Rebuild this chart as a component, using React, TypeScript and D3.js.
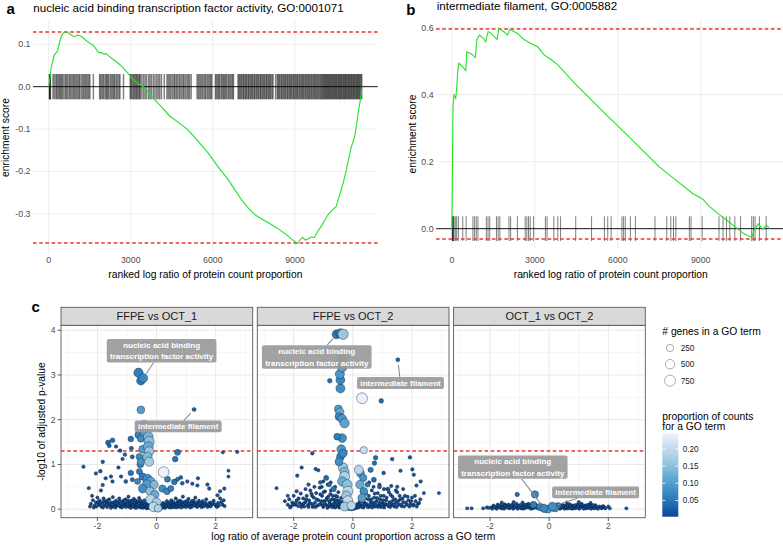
import React from 'react';
import * as d3 from 'd3';

const FONT = '"Liberation Sans", Arial, Helvetica, sans-serif';

// ---------------- panel a ----------------
const titleA = 'nucleic acid binding transcription factor activity, GO:0001071';
const curveA: number[][] = [
  [0,0],[40,0.015],[90,0.045],[150,0.06],[200,0.074],[260,0.079],[330,0.084],[400,0.106],[470,0.12],[550,0.128],
  [640,0.13],[740,0.126],[850,0.121],[950,0.118],[1050,0.122],[1150,0.12],[1250,0.116],[1350,0.11],[1450,0.105],
  [1550,0.101],[1650,0.096],[1750,0.087],[1830,0.08],[1920,0.081],[2000,0.077],[2100,0.078],[2200,0.072],[2320,0.066],
  [2450,0.06],[2560,0.054],[2700,0.046],[2878,0.033],[3050,0.019],[3250,0.008],[3493,-0.002],[3800,-0.026],[4100,-0.046],
  [4400,-0.068],[4750,-0.085],[5092,-0.102],[5450,-0.128],[5830,-0.157],[6200,-0.19],[6568,-0.22],[6800,-0.243],
  [7060,-0.268],[7300,-0.287],[7552,-0.303],[7800,-0.313],[8044,-0.322],[8350,-0.334],[8659,-0.348],[8880,-0.36],
  [9090,-0.37],[9180,-0.362],[9274,-0.356],[9380,-0.362],[9459,-0.36],[9600,-0.355],[9705,-0.356],[9850,-0.34],
  [10012,-0.324],[10197,-0.303],[10350,-0.292],[10504,-0.283],[10600,-0.262],[10689,-0.244],[10790,-0.22],[10873,-0.197],
  [10960,-0.17],[11058,-0.142],[11120,-0.13],[11181,-0.118],[11250,-0.09],[11304,-0.063],[11390,-0.031],[11451,0]
];
const hitsA: number[] = [
  25,38,52,64,160,205,262,298,341,386,424,468,503,556,612,647,695,748,788,836,884,925,966,1012,1057,1104,1138,1196,
  1247,1288,1334,1377,1422,1468,1506,1634,1862,1897,1946,1988,2027,2083,2118,2155,2196,2254,2297,2343,2384,2418,2473,
  2516,2568,2604,2735,2981,3012,3047,3093,3128,3172,3205,3238,3284,3318,3346,3404,3466,3523,3577,3652,3703,3758,3826,
  3884,3947,4003,4058,4121,4224,4322,4368,4417,4463,4518,4574,4608,4662,4707,4764,4803,4858,4912,4948,5003,5057,5104,
  5148,5207,5423,5468,5512,5558,5604,5647,5702,5738,5793,5838,5884,5927,5962,6092,6128,6173,6212,6247,6303,6338,6384,
  6418,6463,6497,6552,6588,6633,6677,6724,6752,6918,6953,6987,7024,7058,7103,7127,7172,7204,7236,7283,7308,7352,7387,
  7424,7457,7503,7528,7574,7607,7643,7678,7724,7748,7793,7827,7864,7897,7943,7968,8013,8047,8084,8117,8163,8198,8292,
  8353,8388,8424,8457,8503,8528,8573,8607,8644,8677,8723,8748,8794,8827,8863,8898,8943,8968,9013,9047,9084,9117,9163,
  9188,9234,9267,9303,9338,9384,9407,9453,9487,9524,9557,9603,9628,9674,9707,9743,9778,9823,9847,9893,9928,9963,9997,
  10034,10058,10093,10117,10153,10178,10214,10238,10273,10297,10334,10358,10393,10417,10453,10478,10514,10538,10573,
  10597,10634,10658,10693,10717,10753,10778,10814,10838,10873,10897,10934,10958,10993,11017,11053,11078,11114,11138,
  11173,11197,11234,11258,11293,11317,11353,11378,11412,11440
];
const boundsA = [-0.37, 0.13];
const xTicksA = [0, 3000, 6000, 9000];
const yTicksA = [-0.3, -0.2, -0.1, 0, 0.1];

// ---------------- panel b ----------------
const titleB = 'intermediate filament, GO:0005882';
const curveB: number[][] = [
  [0,0],[20,0.2],[37,0.364],[73,0.399],[134,0.389],[171,0.419],[207,0.469],[256,0.494],[378,0.484],[500,0.472],
  [537,0.528],[720,0.521],[842,0.511],[903,0.565],[1000,0.578],[1171,0.565],[1220,0.558],[1305,0.588],[1391,0.585],
  [1635,0.565],[1696,0.598],[1879,0.588],[2001,0.578],[2098,0.595],[2367,0.583],[2611,0.565],[2855,0.553],[3099,0.543],
  [3343,0.518],[3587,0.505],[3831,0.489],[4441,0.434],[5051,0.384],[5661,0.334],[6271,0.285],[6881,0.235],[7491,0.185],
  [8101,0.145],[8711,0.105],[9077,0.088],[9321,0.066],[9687,0.041],[9931,0.026],[10236,0.006],[10541,-0.014],
  [10846,-0.026],[10931,-0.004],[11090,0.014],[11249,-0.002],[11371,0.011],[11492,0]
];
const hitsB: number[] = [
  10,24,35,50,73,120,171,232,391,512,757,818,879,940,1244,1305,1366,1610,1671,1732,2062,2123,2367,2648,2709,2770,2831,
  2953,3380,3441,3685,3831,3929,4478,5051,5515,5637,5759,6149,6210,6271,6454,6637,7345,7772,7918,8016,8101,8589,8650,
  9052,9662,9808,9930,10052,10235,10442,10845,10906,10967,11125,11369
];
const boundsB = [-0.03, 0.595];
const xTicksB = [0, 3000, 6000, 9000];
const yTicksB = [0, 0.2, 0.4, 0.6];

const xTitleAB = 'ranked log ratio of protein count proportion';
const yTitleAB = 'enrichment score';

// ---------------- panel c ----------------
const facets = ['FFPE vs OCT_1', 'FFPE vs OCT_2', 'OCT_1 vs OCT_2'];
// [log ratio, -log10 adj p, genes, proportion]
const terms1: number[][] = [
  [-2.47,0.95,20,0.02],[-2.29,0.47,15,0.02],[-2.05,0.8,20,0.02],[-1.9,0.85,25,0.02],[-1.82,1.06,25,0.02],
  [-1.64,1.49,80,0.04],[-1.49,1.54,70,0.04],[-1.6,1.42,40,0.03],[-1.37,1.4,20,0.02],[-1.23,1.31,25,0.02],
  [-1.07,1.22,25,0.03],[-1.15,1.12,20,0.02],[-1.29,0.93,20,0.02],[-1.54,0.73,20,0.02],[-1.49,0.62,20,0.02],
  [-1.72,0.69,20,0.02],[-1.82,0.54,20,0.02],[-1.88,0.42,20,0.02],[-1.2,0.73,20,0.02],[-1.04,0.62,30,0.03],
  [0.87,0.58,30,0.03],[1.04,0.62,20,0.02],[1.21,0.57,20,0.02],[1.38,0.53,20,0.02],[1.4,0.69,20,0.02],
  [1.72,0.55,20,0.02],[1.78,0.46,20,0.02],[2.15,0.4,20,0.02],[2.29,0.46,20,0.02],[2.06,0.31,20,0.02],
  [2.24,1.27,15,0.02],[2.73,1.28,15,0.02],[2.43,0.86,12,0.02],[2.43,0.73,12,0.02],
  [-0.85,1.36,40,0.03],[-0.82,1.17,40,0.03],[-0.87,0.81,110,0.05],[-0.82,0.66,40,0.04],[-0.64,0.62,150,0.07],
  [-0.58,0.84,150,0.06],[-0.47,0.73,250,0.06],[-0.87,1.57,120,0.05],[-0.62,1.66,200,0.07],[-0.53,1.58,250,0.08],
  [-0.58,1.17,200,0.08],[-0.55,1.0,200,0.07],[-0.47,1.34,300,0.1],[-0.53,1.06,250,0.09],[-0.42,1.9,260,0.09],
  [-0.36,1.75,520,0.11],[-0.28,1.62,560,0.13],[-0.25,1.51,600,0.15],[-0.28,1.4,560,0.12],[-0.25,1.29,520,0.16],
  [-0.31,1.17,500,0.14],[-0.25,1.06,460,0.17],[-0.31,0.68,450,0.08],[-0.2,0.62,420,0.11],[-0.33,0.55,480,0.1],
  [-0.47,0.46,380,0.08],[-0.08,0.55,350,0.14],[-0.22,0.4,400,0.15],[-0.06,0.33,380,0.12],[-0.2,0.22,500,0.19],
  [0.0,0.15,450,0.17],[-0.1,0.05,520,0.2],[0.05,0.02,300,0.18],[0.2,0.46,250,0.08],[0.35,0.4,200,0.07],
  [0.48,0.46,150,0.06],[0.6,0.61,120,0.05],[0.71,0.67,40,0.04],[0.82,0.71,30,0.03],[0.37,0.67,150,0.06],
  [0.71,1.27,150,0.05],[0.63,1.12,120,0.05],[0.24,0.83,700,0.24],
  [-0.53,2.22,300,0.1],[1.27,2.23,35,0.03],[-0.53,2.87,380,0.055],[-0.61,3.05,480,0.06],[-0.45,2.93,430,0.07]
];
const terms2: number[][] = [
  [-2.58,0.47,15,0.02],[2.91,0.36,15,0.02],[2.4,0.36,15,0.02],[2.06,0.77,20,0.02],[2.15,0.53,20,0.02],
  [2.29,0.62,20,0.02],[-1.5,0.55,20,0.02],[-1.1,0.6,30,0.03],[-0.9,0.7,80,0.04],[-0.8,0.55,60,0.04],
  [-0.65,0.45,100,0.05],[0.5,0.55,80,0.05],[0.9,0.5,40,0.03],[1.2,0.45,20,0.02],[1.5,0.5,20,0.02],
  [-1.9,0.4,20,0.02],[-2.2,0.3,15,0.02],[-1.73,0.93,20,0.02],[-1.88,0.75,20,0.02],[-1.26,0.9,20,0.02],
  [-1.17,0.87,20,0.02],[1.04,0.81,25,0.02],[1.33,1.12,25,0.02],[1.93,1.16,25,0.02],[1.61,0.86,20,0.02],
  [2.01,0.89,20,0.02],[-1.37,1.25,25,0.02],[0.77,1.15,60,0.04],[0.73,1.03,60,0.04],[0.6,0.88,100,0.05],
  [0.71,0.66,80,0.04],[0.26,0.8,300,0.1],[0.35,0.7,250,0.09],[0.24,0.55,380,0.12],[0.37,0.4,300,0.08],
  [0.31,0.25,350,0.1],[0.2,0.88,450,0.19],
  [-0.33,0.93,520,0.16],[-0.28,0.83,480,0.14],[-0.28,0.73,600,0.18],[-0.36,0.62,480,0.12],[-0.19,0.55,550,0.15],
  [-0.17,0.4,600,0.19],[-0.22,0.3,500,0.16],[-0.17,0.19,550,0.2],[-0.28,0.06,450,0.17],[-0.05,0.08,400,0.19],
  [-0.42,1.17,300,0.06],[-0.47,1.06,300,0.08],[-0.39,1.34,420,0.09],[-0.33,1.25,350,0.07],[0.37,1.32,250,0.21],
  [-0.36,1.59,400,0.08],[-0.53,1.62,200,0.06],[-0.49,2.24,300,0.1],[-0.44,2.17,350,0.12],[-0.47,2.07,300,0.07],
  [-0.36,2.02,420,0.09],[-0.28,1.92,480,0.11],[-0.42,2.7,450,0.08],[0.31,2.48,700,0.24],[0.96,2.42,60,0.04],
  [-0.78,2.87,60,0.04],[-0.42,2.89,420,0.07],[-0.44,3.02,450,0.09],[-0.36,3.17,480,0.1],[-0.36,3.34,500,0.12],
  [1.52,3.34,35,0.03],[-0.55,3.91,420,0.05],[-0.42,3.93,450,0.06],[-0.33,3.91,620,0.16]
];
const terms3: number[][] = [
  [-2.77,0.02,15,0.02],[-2.62,0.02,15,0.02],[-2.23,0.02,15,0.02],[-2.05,0.03,15,0.02],[2.05,0.02,15,0.02],
  [2.61,0.02,15,0.02],[-1.08,0.33,50,0.04],[-0.48,0.33,250,0.07],[-0.53,0.1,200,0.06],[-0.3,0.05,250,0.07],
  [0.3,0.08,150,0.05],[-0.05,0.0,300,0.1],[0.2,0.02,250,0.09],[-0.17,0.02,350,0.07],[0.11,0.06,400,0.08]
];
// small GO terms forming the dense band near zero: [log ratio, -log10 adj p]
const band1: number[][] = [
  [-2.22,0.12],[-2.18,0.3],[-2.15,0.2],[-2.1,0.08],[-2.05,0.15],[-2.0,0.26],[-1.96,0.1],[-1.92,0.19],[-1.87,0.06],
  [-1.83,0.14],[-1.79,0.24],[-1.75,0.09],[-1.71,0.17],[-1.67,0.05],[-1.63,0.12],[-1.6,0.22],[-1.56,0.08],[-1.52,0.15],
  [-1.48,0.27],[-1.45,0.06],[-1.41,0.11],[-1.37,0.19],[-1.33,0.08],[-1.3,0.14],[-1.26,0.24],[-1.22,0.05],[-1.19,0.1],
  [-1.15,0.17],[-1.12,0.07],[-1.08,0.13],[-1.05,0.22],[-1.01,0.09],[-0.98,0.15],[-0.95,0.28],[-0.92,0.05],[-0.89,0.11],
  [-0.86,0.19],[-0.83,0.07],[-0.8,0.13],[-0.77,0.23],[-0.74,0.04],[-0.71,0.1],[-0.68,0.17],[-0.65,0.06],[-0.62,0.12],
  [-0.59,0.25],[-0.56,0.04],[-0.53,0.09],[-0.5,0.15],[-0.47,0.03],[-0.44,0.1],[-0.41,0.2],[-0.38,0.05],[-0.35,0.12],
  [-0.32,0.02],[-0.29,0.08],[-0.26,0.15],[-0.23,0.03],[-0.2,0.07],[-0.17,0.01],[-0.14,0.05],[-0.11,0.1],[-0.08,0.02],
  [-0.05,0.0],[0.02,0.01],[0.05,0.05],[0.08,0.02],[0.11,0.08],[0.14,0.03],[0.17,0.1],[0.2,0.05],[0.23,0.14],[0.26,0.07],
  [0.29,0.03],[0.32,0.11],[0.35,0.18],[0.38,0.06],[0.41,0.13],[0.44,0.04],[0.47,0.1],[0.5,0.2],[0.53,0.07],[0.56,0.14],
  [0.59,0.05],[0.62,0.11],[0.65,0.24],[0.68,0.08],[0.71,0.15],[0.74,0.05],[0.77,0.1],[0.8,0.19],[0.83,0.07],[0.86,0.13],
  [0.89,0.28],[0.92,0.06],[0.95,0.11],[0.98,0.17],[1.01,0.08],[1.05,0.14],[1.08,0.23],[1.12,0.06],[1.15,0.11],
  [1.19,0.18],[1.23,0.08],[1.27,0.13],[1.31,0.26],[1.35,0.07],[1.39,0.12],[1.43,0.19],[1.48,0.09],[1.53,0.14],
  [1.58,0.06],[1.63,0.11],[1.68,0.22],[1.74,0.08],[1.8,0.15],[1.86,0.1],[1.93,0.19],[2.0,0.08],[2.08,0.14],[2.15,0.24],
  [2.23,0.1],[2.3,0.07],
  [-2.12,0.04],[-2.03,0.06],[-1.98,0.16],[-1.9,0.12],[-1.81,0.04],[-1.77,0.18],[-1.69,0.1],[-1.65,0.2],[-1.58,0.13],
  [-1.54,0.03],[-1.5,0.1],[-1.43,0.16],[-1.39,0.04],[-1.35,0.14],[-1.28,0.09],[-1.24,0.18],[-1.17,0.04],[-1.13,0.14],
  [-1.1,0.2],[-1.03,0.05],[-0.99,0.11],[-0.96,0.19],[-0.9,0.14],[-0.87,0.03],[-0.84,0.16],[-0.79,0.09],[-0.75,0.15],
  [-0.72,0.2],[-0.69,0.03],[-0.66,0.1],[-0.63,0.17],[-0.6,0.08],[-0.57,0.13],[-0.54,0.19],[-0.51,0.06],[-0.48,0.12],
  [-0.45,0.07],[-0.42,0.14],[-0.39,0.09],[-0.36,0.03],[-0.33,0.07],[-0.3,0.12],[-0.27,0.05],[-0.24,0.1],[-0.21,0.02],
  [-0.18,0.06],[-0.13,0.03],[-0.1,0.06],[-0.02,0.02],[0.03,0.03],[0.1,0.04],[0.13,0.06],[0.18,0.03],[0.22,0.08],
  [0.27,0.1],[0.31,0.06],[0.34,0.09],[0.39,0.12],[0.43,0.08],[0.46,0.15],[0.51,0.04],[0.55,0.09],[0.58,0.16],[0.61,0.08],
  [0.66,0.04],[0.69,0.12],[0.73,0.18],[0.76,0.07],[0.79,0.13],[0.84,0.04],[0.88,0.16],[0.91,0.1],[0.96,0.14],[1.0,0.05],
  [1.03,0.18],[1.07,0.09],[1.1,0.13],[1.14,0.04],[1.18,0.14],[1.21,0.06],[1.25,0.19],[1.29,0.09],[1.33,0.15],[1.37,0.05],
  [1.41,0.09],[1.46,0.13],[1.51,0.05],[1.56,0.18],[1.61,0.08],[1.66,0.14],[1.72,0.05],[1.77,0.11],[1.83,0.06],[1.89,0.14],
  [1.97,0.11],[2.04,0.05],[2.11,0.08],[2.19,0.16],[2.27,0.2],[-2.25,0.06]
];
const band2: number[][] = [
  [-2.2,0.1],[-2.15,0.22],[-2.1,0.06],[-2.05,0.15],[-2.0,0.3],[-1.95,0.1],[-1.9,0.2],[-1.85,0.07],[-1.8,0.14],
  [-1.76,0.35],[-1.72,0.1],[-1.68,0.24],[-1.64,0.06],[-1.6,0.16],[-1.56,0.3],[-1.52,0.09],[-1.48,0.2],[-1.44,0.42],
  [-1.4,0.12],[-1.36,0.05],[-1.32,0.26],[-1.28,0.15],[-1.24,0.36],[-1.2,0.08],[-1.16,0.2],[-1.12,0.48],[-1.08,0.12],
  [-1.04,0.3],[-1.0,0.05],[-0.97,0.18],[-0.94,0.4],[-0.91,0.1],[-0.88,0.25],[-0.85,0.55],[-0.82,0.06],[-0.79,0.16],
  [-0.76,0.34],[-0.73,0.1],[-0.7,0.22],[-0.67,0.45],[-0.64,0.05],[-0.61,0.15],[-0.58,0.3],[-0.55,0.08],[-0.52,0.2],
  [-0.49,0.38],[-0.46,0.04],[-0.43,0.12],[-0.4,0.25],[-0.37,0.07],[-0.34,0.16],[-0.31,0.02],[-0.28,0.1],[-0.25,0.2],
  [-0.22,0.04],[-0.19,0.1],[-0.16,0.01],[-0.12,0.05],[-0.08,0.02],[-0.04,0.0],[0.0,0.03],[0.04,0.01],[0.08,0.06],
  [0.12,0.03],[0.16,0.12],[0.2,0.05],[0.24,0.18],[0.28,0.08],[0.32,0.28],[0.36,0.04],[0.4,0.14],[0.44,0.35],[0.48,0.08],
  [0.52,0.22],[0.56,0.05],[0.6,0.16],[0.64,0.42],[0.68,0.1],[0.72,0.26],[0.76,0.06],[0.8,0.18],[0.84,0.36],[0.88,0.09],
  [0.92,0.22],[0.96,0.05],[1.0,0.14],[1.04,0.3],[1.08,0.1],[1.12,0.2],[1.16,0.45],[1.2,0.07],[1.24,0.16],[1.28,0.32],
  [1.32,0.1],[1.36,0.2],[1.4,0.06],[1.45,0.14],[1.5,0.38],[1.55,0.1],[1.6,0.22],[1.65,0.07],[1.7,0.16],[1.76,0.3],
  [1.82,0.1],[1.88,0.2],[1.94,0.12],[2.0,0.26],[2.06,0.1],[2.12,0.18],[2.2,0.12],[2.28,0.22],[-1.3,0.5],[-1.0,0.62],
  [-0.75,0.6],[0.55,0.6],[0.9,0.55],[1.3,0.52],[-1.6,0.45],[1.7,0.45],
  [-2.12,0.04],[-2.02,0.1],[-1.93,0.14],[-1.83,0.24],[-1.74,0.05],[-1.66,0.13],[-1.58,0.22],[-1.5,0.05],[-1.46,0.14],
  [-1.38,0.3],[-1.34,0.09],[-1.26,0.05],[-1.22,0.22],[-1.14,0.1],[-1.1,0.33],[-1.06,0.18],[-1.02,0.08],[-0.99,0.38],
  [-0.95,0.12],[-0.9,0.2],[-0.86,0.03],[-0.83,0.28],[-0.8,0.1],[-0.77,0.2],[-0.74,0.42],[-0.71,0.05],[-0.68,0.3],
  [-0.65,0.12],[-0.62,0.22],[-0.59,0.04],[-0.56,0.16],[-0.53,0.28],[-0.5,0.1],[-0.47,0.18],[-0.44,0.05],[-0.41,0.16],
  [-0.38,0.1],[-0.35,0.03],[-0.32,0.13],[-0.29,0.06],[-0.26,0.12],[-0.23,0.08],[-0.2,0.02],[-0.14,0.04],[-0.1,0.01],
  [-0.06,0.04],[0.02,0.02],[0.06,0.03],[0.1,0.05],[0.14,0.08],[0.18,0.04],[0.22,0.1],[0.26,0.14],[0.3,0.05],[0.34,0.18],
  [0.38,0.1],[0.42,0.24],[0.46,0.12],[0.5,0.05],[0.54,0.3],[0.58,0.1],[0.62,0.22],[0.66,0.04],[0.7,0.15],[0.74,0.35],
  [0.78,0.1],[0.82,0.25],[0.86,0.05],[0.9,0.14],[0.94,0.3],[0.98,0.1],[1.02,0.2],[1.06,0.04],[1.1,0.12],[1.14,0.26],
  [1.18,0.1],[1.22,0.38],[1.26,0.05],[1.3,0.14],[1.34,0.28],[1.38,0.1],[1.43,0.22],[1.48,0.05],[1.53,0.18],[1.58,0.3],
  [1.63,0.1],[1.68,0.24],[1.73,0.06],[1.79,0.15],[1.85,0.28],[1.91,0.06],[1.97,0.18],[2.03,0.08],[2.1,0.3],[2.16,0.06],
  [2.24,0.14],[-2.3,0.18],[-1.05,0.5],[-0.6,0.5],[0.7,0.5],[1.05,0.45],[-1.4,0.35],[1.45,0.42]
];
const band3: number[][] = [
  [-1.95,0.04],[-1.88,0.08],[-1.8,0.03],[-1.74,0.1],[-1.68,0.05],[-1.62,0.02],[-1.56,0.07],[-1.5,0.11],[-1.45,0.04],
  [-1.4,0.08],[-1.35,0.02],[-1.3,0.06],[-1.25,0.1],[-1.2,0.03],[-1.15,0.07],[-1.1,0.12],[-1.05,0.04],[-1.0,0.08],
  [-0.95,0.02],[-0.9,0.06],[-0.85,0.1],[-0.8,0.03],[-0.75,0.07],[-0.7,0.12],[-0.65,0.04],[-0.6,0.08],[-0.55,0.02],
  [-0.5,0.05],[-0.45,0.1],[-0.4,0.03],[-0.35,0.06],[-0.3,0.01],[-0.25,0.04],[-0.2,0.0],[-0.15,0.02],[-0.1,0.0],
  [-0.05,0.01],[0.0,0.0],[0.05,0.02],[0.1,0.0],[0.15,0.03],[0.2,0.01],[0.25,0.05],[0.3,0.02],[0.35,0.07],[0.4,0.03],
  [0.45,0.1],[0.5,0.04],[0.55,0.08],[0.6,0.02],[0.65,0.06],[0.7,0.11],[0.75,0.04],[0.8,0.08],[0.85,0.02],[0.9,0.06],
  [0.95,0.1],[1.0,0.03],[1.05,0.07],[1.1,0.12],[1.15,0.04],[1.2,0.08],[1.25,0.02],[1.3,0.06],[1.35,0.1],[1.4,0.03],
  [1.45,0.07],[1.5,0.04],[1.56,0.09],[1.62,0.03],[1.7,0.06],[1.78,0.02],[1.85,0.05],[-1.6,0.15],[-1.2,0.16],
  [-0.9,0.15],[0.6,0.15],[1.0,0.16],[1.4,0.14],
  [-1.92,0.01],[-1.84,0.05],[-1.77,0.01],[-1.71,0.06],[-1.65,0.09],[-1.59,0.04],[-1.53,0.01],[-1.47,0.08],[-1.42,0.05],
  [-1.37,0.1],[-1.32,0.04],[-1.27,0.07],[-1.22,0.01],[-1.17,0.05],[-1.12,0.08],[-1.07,0.01],[-1.02,0.05],[-0.97,0.09],
  [-0.92,0.04],[-0.87,0.01],[-0.82,0.06],[-0.77,0.1],[-0.72,0.04],[-0.67,0.08],[-0.62,0.01],[-0.57,0.06],[-0.52,0.09],
  [-0.47,0.04],[-0.42,0.07],[-0.37,0.02],[-0.32,0.05],[0.27,0.03],[0.32,0.06],[0.37,0.01],[0.42,0.05],[0.47,0.08],
  [0.52,0.01],[0.57,0.05],[0.62,0.09],[0.67,0.02],[0.72,0.07],[0.77,0.01],[0.82,0.05],[0.87,0.09],[0.92,0.03],[0.97,0.06],
  [1.02,0.01],[1.07,0.1],[1.12,0.05],[1.17,0.01],[1.22,0.06],[1.27,0.09],[1.32,0.03],[1.37,0.07],[1.42,0.01],[1.48,0.09],
  [1.53,0.02],[1.59,0.06],[1.65,0.01],[1.74,0.04],[1.82,0.07],[1.9,0.02],[-2.1,0.04],[2.0,0.06]
];
const bandGenes = 12;
const bandProp = 0.012;
const termsByFacet = [terms1, terms2, terms3];
const bandByFacet = [band1, band2, band3];
const pCutoff = 0.05;
const xTicksC = [-2, 0, 2];
const xMinorC = [-3, -1, 1, 3];
const yTicksC = [0, 1, 2, 3, 4];
const yMinorC = [0.5, 1.5, 2.5, 3.5];
const xTitleC = 'log ratio of average protein count proportion across a GO term';
const yTitleC = '-log10 of adjusted p-value';

const nucleic = ['nucleic acid binding', 'transcription factor activity'];
const interm = ['intermediate filament'];
// labelled terms: facet, text, point (data), label centre (data)
const labelsC = [
  { f: 0, text: nucleic, px: -0.45, py: 2.93, lx: 0.17, ly: 3.54 },
  { f: 0, text: interm, px: 1.27, py: 2.23, lx: 0.73, ly: 1.85 },
  { f: 1, text: nucleic, px: -0.55, py: 3.91, lx: -1.22, ly: 3.4 },
  { f: 1, text: interm, px: 1.52, py: 3.34, lx: 1.61, ly: 2.82 },
  { f: 2, text: nucleic, px: -0.17, py: 0.02, lx: -1.23, ly: 0.94 },
  { f: 2, text: interm, px: 0.11, py: 0.06, lx: 1.57, ly: 0.375 },
];

const sizeTitle = '# genes in a GO term';
const sizeBreaks = [250, 500, 750];
const genesRange = [5, 900];
const colourTitle = ['proportion of counts', 'for a GO term'];
const propBreaks = [0.05, 0.1, 0.15, 0.2];
const propRange = [0.003, 0.245];
const blues = ['#084594', '#2171B5', '#4292C6', '#6BAED6', '#9ECAE1', '#C6DBEF', '#EFF3FF'];

const RED = '#F23030';

// ---------------- helpers ----------------
let measureCtx: CanvasRenderingContext2D | null = null;
function textWidth(s: string, font: string): number {
  if (!measureCtx) {
    const c = document.createElement('canvas');
    measureCtx = c.getContext('2d');
  }
  if (!measureCtx) return s.length * 4;
  measureCtx.font = font;
  return measureCtx.measureText(s).width;
}

const fmt1 = (v: number) => (Math.abs(v) < 1e-9 ? '0.0' : v.toFixed(1));
const fmt2 = (v: number) => v.toFixed(2);

type GseaProps = {
  xs: d3.ScaleLinear<number, number>;
  ys: d3.ScaleLinear<number, number>;
  curve: number[][];
  hits: number[];
  hitHalf: number;
  hitOpacity: number;
  hitWidth: number;
  bounds: number[];
  xTicks: number[];
  yTicks: number[];
  title: string;
  titleX: number;
  titleY: number;
  letter: string;
  letterX: number;
  letterY: number;
  yTitleX: number;
  xTitleY: number;
  tickY: number;
};

function Gsea(p: GseaProps) {
  const [x0, x1] = p.xs.range();
  const [yb, yt] = p.ys.range();
  const line = d3.line<number[]>().x(d => p.xs(d[0])).y(d => p.ys(d[1]));
  return (
    <g>
      {p.xTicks.map(t => (
        <line key={'gx' + t} x1={p.xs(t)} x2={p.xs(t)} y1={yt} y2={yb} stroke="#EBEBEB" strokeWidth={0.9} />
      ))}
      {p.yTicks.map(t => (
        <line key={'gy' + t} x1={x0} x2={x1} y1={p.ys(t)} y2={p.ys(t)} stroke="#EBEBEB" strokeWidth={0.9} />
      ))}
      {p.hits.map((h, i) => (
        <line key={'h' + i} x1={p.xs(h)} x2={p.xs(h)} y1={p.ys(-p.hitHalf)} y2={p.ys(p.hitHalf)}
          stroke="#000" strokeOpacity={p.hitOpacity} strokeWidth={p.hitWidth} />
      ))}
      <line x1={x0} x2={x1} y1={p.ys(0)} y2={p.ys(0)} stroke="#000" strokeWidth={0.9} />
      {p.bounds.map(b => (
        <line key={'b' + b} x1={x0} x2={x1} y1={Math.round(p.ys(b))} y2={Math.round(p.ys(b))} stroke={RED}
          strokeWidth={1.6} strokeDasharray="3.6,2.6" />
      ))}
      <path d={line(p.curve) || ''} fill="none" stroke="#22E322" strokeWidth={1.1} />
      {p.xTicks.map(t => (
        <text key={'xl' + t} x={p.xs(t)} y={p.tickY} textAnchor="middle" fontSize={8.8} fill="#4D4D4D">{t}</text>
      ))}
      {p.yTicks.map(t => (
        <text key={'yl' + t} x={x0 - 2.5} y={p.ys(t) + 3.1} textAnchor="end" fontSize={8.8} fill="#4D4D4D">{fmt1(t)}</text>
      ))}
      <text x={(x0 + x1) / 2} y={p.xTitleY} textAnchor="middle" fontSize={10.3} fill="#000">{xTitleAB}</text>
      <text transform={`translate(${p.yTitleX},${(yt + yb) / 2}) rotate(-90)`} textAnchor="middle" fontSize={10.3} fill="#000">{yTitleAB}</text>
      <text x={p.titleX} y={p.titleY} fontSize={11.6} fill="#000">{p.title}</text>
      <text x={p.letterX} y={p.letterY} fontSize={15} fontWeight="bold" fill="#000">{p.letter}</text>
    </g>
  );
}

export default function App() {
  // panel a / b scales
  const xA = d3.scaleLinear().domain([-572, 12022]).range([33, 377.7]);
  const yA = d3.scaleLinear().domain([-0.395, 0.155]).range([254, 21]);
  const xB = d3.scaleLinear().domain([-574, 12064]).range([436.1, 785.4]);
  const yB = d3.scaleLinear().domain([-0.061, 0.626]).range([249.1, 19]);

  // panel c scales
  const cTop = 325.3, cBottom = 517.7, stripTop = 307.3;
  const cWidth = 191.7, cStep = 196.3, cLeft0 = 61;
  const yC = d3.scaleLinear().domain([-0.19, 4.11]).range([cBottom, cTop]);
  const size = d3.scaleSqrt().domain(genesRange).range([1.4, 6]);
  const colourDomain = blues.map((_, i) => propRange[0] + (i * (propRange[1] - propRange[0])) / (blues.length - 1));
  const colour = d3.scaleLinear<string>().domain(colourDomain).range(blues).interpolate(d3.interpolateLab).clamp(true);

  const labelFont = `bold 8px ${FONT}`;

  // legend
  const legX = 662.3;
  const barTop = 433.3, barBottom = 516.7, barW = 16;
  const barScale = d3.scaleLinear().domain(propRange).range([barBottom, barTop]);
  const gradStops = d3.range(0, 1.0001, 0.05).map(t => ({ t, c: colour(propRange[0] + t * (propRange[1] - propRange[0])) }));

  return (
    <svg width={783} height={545} style={{ position: 'absolute', left: 0, top: 0, background: '#fff' }}
      fontFamily={FONT}>
      <rect x={0} y={0} width={783} height={545} fill="#fff" />
      <defs>
        <linearGradient id="propGrad" x1="0" x2="0" y1="1" y2="0">
          {gradStops.map(s => <stop key={s.t} offset={s.t} stopColor={s.c} />)}
        </linearGradient>
        {facets.map((_, i) => (
          <clipPath key={i} id={'clipC' + i}>
            <rect x={cLeft0 + i * cStep} y={cTop} width={cWidth} height={cBottom - cTop} />
          </clipPath>
        ))}
      </defs>

      <Gsea xs={xA} ys={yA} curve={curveA} hits={hitsA} hitHalf={0.03} hitOpacity={0.5} hitWidth={1.45} bounds={boundsA}
        xTicks={xTicksA} yTicks={yTicksA} title={titleA} titleX={33.3} titleY={12.3}
        letter="a" letterX={6.5} letterY={14.2} yTitleX={8.6} xTitleY={278.3} tickY={263.3} />
      <Gsea xs={xB} ys={yB} curve={curveB} hits={hitsB} hitHalf={0.037} hitOpacity={0.5} hitWidth={1} bounds={boundsB}
        xTicks={xTicksB} yTicks={yTicksB} title={titleB} titleX={436.7} titleY={10}
        letter="b" letterX={406.2} letterY={15} yTitleX={416} xTitleY={278} tickY={263.3} />

      {/* panel c */}
      <text x={31.5} y={311.6} fontSize={15} fontWeight="bold" fill="#000">c</text>
      {facets.map((name, i) => {
        const left = cLeft0 + i * cStep;
        const right = left + cWidth;
        const xC = d3.scaleLinear().domain([-3.23, 3.25]).range([left, right]);
        const pts = termsByFacet[i];
        const band = bandByFacet[i];
        const labs = labelsC.filter(l => l.f === i);
        const cutY = Math.round(yC(-Math.log10(pCutoff)));
        return (
          <g key={name}>
            {xMinorC.map(t => <line key={'mx' + t} x1={xC(t)} x2={xC(t)} y1={cTop} y2={cBottom} stroke="#F0F0F0" strokeWidth={0.6} />)}
            {yMinorC.map(t => <line key={'my' + t} x1={left} x2={right} y1={yC(t)} y2={yC(t)} stroke="#F0F0F0" strokeWidth={0.6} />)}
            {xTicksC.map(t => <line key={'gx' + t} x1={xC(t)} x2={xC(t)} y1={cTop} y2={cBottom} stroke="#E6E6E6" strokeWidth={0.9} />)}
            {yTicksC.map(t => <line key={'gy' + t} x1={left} x2={right} y1={yC(t)} y2={yC(t)} stroke="#E6E6E6" strokeWidth={0.9} />)}
            <line x1={left} x2={right} y1={cutY} y2={cutY} stroke={RED} strokeWidth={1.6} strokeDasharray="3.6,2.6" />
            <g clipPath={`url(#clipC${i})`}>
              {band.map((d, k) => (
                <circle key={'b' + k} cx={xC(d[0])} cy={yC(d[1])} r={size(bandGenes)} fill={colour(bandProp)}
                  stroke="#0b1a30" strokeWidth={0.5} />
              ))}
              {pts.map((d, k) => (
                <circle key={'p' + k} cx={xC(d[0])} cy={yC(d[1])} r={size(d[2])} fill={colour(d[3])}
                  stroke="#1a2535" strokeWidth={0.5} strokeOpacity={0.85} />
              ))}
              {labs.map((l, k) => {
                const w = Math.max(...l.text.map(s => textWidth(s, labelFont))) + 6.5;
                const h = l.text.length * 11.6 + 0.2;
                const cx = xC(l.lx), cy = yC(l.ly);
                const bx = cx - w / 2, by = cy - h / 2;
                const px = xC(l.px), py = yC(l.py);
                const dx = cx - px, dy = cy - py;
                const tx = dx !== 0 ? (w / 2) / Math.abs(dx) : Infinity;
                const ty = dy !== 0 ? (h / 2) / Math.abs(dy) : Infinity;
                const tEdge = 1 - Math.min(tx, ty, 1);
                const len = Math.hypot(dx, dy);
                const t0 = Math.min(5 / len, tEdge);
                return (
                  <g key={'l' + k}>
                    <line x1={px + dx * t0} y1={py + dy * t0} x2={px + dx * tEdge} y2={py + dy * tEdge}
                      stroke="#8E8E8E" strokeWidth={1.1} />
                    <rect x={bx} y={by} width={w} height={h} rx={2} fill="#9B9B9B" fillOpacity={0.93} />
                    {l.text.map((s, j) => (
                      <text key={j} x={cx} y={by + 8.6 + j * 11.6} textAnchor="middle" fontSize={8}
                        fontWeight="bold" fill="#fff">{s}</text>
                    ))}
                  </g>
                );
              })}
            </g>
            <rect x={left} y={cTop} width={cWidth} height={cBottom - cTop} fill="none" stroke="#595959" strokeWidth={0.9} />
            <rect x={left} y={stripTop} width={cWidth} height={cTop - stripTop} fill="#D9D9D9" stroke="#595959" strokeWidth={0.9} />
            <text x={(left + right) / 2} y={320.2} textAnchor="middle" fontSize={11} fill="#1A1A1A">{name}</text>
            {xTicksC.map(t => (
              <g key={'xt' + t}>
                <line x1={xC(t)} x2={xC(t)} y1={cBottom} y2={cBottom + 3.3} stroke="#333" strokeWidth={0.8} />
                <text x={xC(t)} y={529.3} textAnchor="middle" fontSize={8.5} fill="#4D4D4D">{t}</text>
              </g>
            ))}
            {i === 0 && yTicksC.map(t => (
              <g key={'yt' + t}>
                <line x1={left - 3.3} x2={left} y1={yC(t)} y2={yC(t)} stroke="#333" strokeWidth={0.8} />
                <text x={left - 5.5} y={yC(t) + 3} textAnchor="end" fontSize={8.5} fill="#4D4D4D">{t}</text>
              </g>
            ))}
          </g>
        );
      })}
      <text x={353.3} y={540} textAnchor="middle" fontSize={10.3} fill="#000">{xTitleC}</text>
      <text transform={`translate(44.5,${(cTop + cBottom) / 2}) rotate(-90)`} textAnchor="middle" fontSize={10.3} fill="#000">{yTitleC}</text>

      {/* legends */}
      <text x={legX} y={334.5} fontSize={10.3} fill="#000">{sizeTitle}</text>
      {sizeBreaks.map((b, k) => {
        const cy = [348, 364.2, 380.7][k];
        return (
          <g key={'sz' + b}>
            <circle cx={670} cy={cy} r={size(b)} fill="#fff" stroke="#8A8A8A" strokeWidth={0.7} />
            <text x={680.7} y={cy + 2.9} fontSize={8.2} fill="#1A1A1A">{b}</text>
          </g>
        );
      })}
      {colourTitle.map((s, k) => (
        <text key={'ct' + k} x={legX} y={419.5 + k * 10.5} fontSize={10.3} fill="#000">{s}</text>
      ))}
      <rect x={legX} y={barTop} width={barW} height={barBottom - barTop} fill="url(#propGrad)" />
      {propBreaks.map(b => (
        <g key={'pb' + b}>
          <line x1={legX} x2={legX + 3} y1={barScale(b)} y2={barScale(b)} stroke="#fff" strokeWidth={0.8} />
          <line x1={legX + barW - 3} x2={legX + barW} y1={barScale(b)} y2={barScale(b)} stroke="#fff" strokeWidth={0.8} />
          <text x={682.7} y={barScale(b) + 2.9} fontSize={8.2} fill="#1A1A1A">{fmt2(b)}</text>
        </g>
      ))}
    </svg>
  );
}
